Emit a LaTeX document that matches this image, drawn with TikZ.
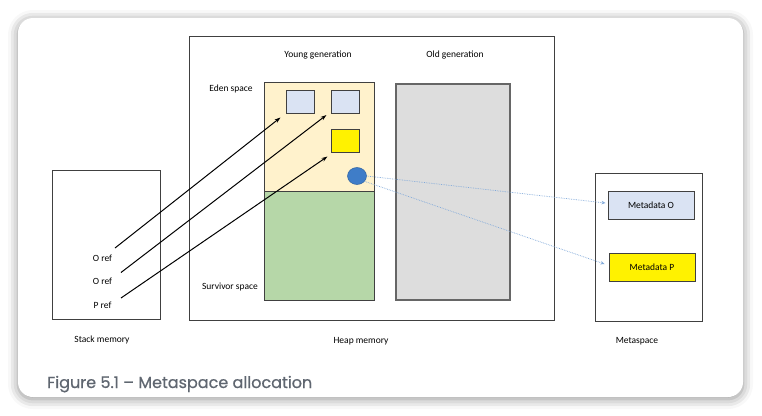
\documentclass[tikz,border=0pt]{standalone}
\usepackage{fontspec}
\setmainfont{Carlito}
\newfontfamily\capfont[FakeBold=0.6]{Poppins}
\usetikzlibrary{arrows.meta,shapes.geometric,shadows.blur,calc}
\definecolor{edencol}{HTML}{FFF2CC}
\definecolor{survcol}{HTML}{B6D7A8}
\definecolor{oldcol}{HTML}{DDDDDD}
\definecolor{objcol}{HTML}{DAE3F3}
\definecolor{klasscol}{HTML}{3F7DC8}
\definecolor{dotcol}{HTML}{7FA8DA}
\definecolor{edgecol}{HTML}{404040}
\definecolor{capcol}{HTML}{5F6670}
\tikzset{
  area/.style={draw=edgecol,line width=0.9pt},
  obj/.style={draw=edgecol,line width=1pt,minimum width=28pt,minimum height=23pt,inner sep=0pt},
  lbl/.style={font=\fontsize{9.5}{11}\selectfont,inner sep=0pt},
  ref/.style={->,line width=1pt},
  metaref/.style={->,dotcol,densely dotted,line width=0.7pt,>={Stealth[length=4pt,width=3.5pt]}}
}
\begin{document}
\begin{tikzpicture}[x=1pt,y=-1pt,>={Stealth[length=6pt,width=4pt]}]
\useasboundingbox (0,0) rectangle (762,415);
% card
\fill[white,rounded corners=15pt,blur shadow={shadow xshift=0pt,shadow yshift=-2pt,shadow blur radius=10pt,shadow opacity=45}]
  (18,18) rectangle (743,397);
\node[anchor=base west,font=\capfont\fontsize{16}{18}\selectfont,text=capcol,inner sep=0pt] (cap) at (47,388) {Figure 5.1 – Metaspace allocation};
% memory areas
\node[area,minimum width=365pt,minimum height=284pt] (heap) at (371.5,178) {};
\node[area,minimum width=108pt,minimum height=149pt] (stack) at (106,244.5) {};
\node[area,minimum width=107pt,minimum height=148pt] (meta) at (648.5,247) {};
\node[area,fill=edencol,minimum width=110pt,minimum height=109pt] (eden) at (319,136.5) {};
\node[area,fill=survcol,minimum width=110pt,minimum height=109pt] (surv) at (319,245.5) {};
\node[area,draw=edgecol!80,line width=1.3pt,fill=oldcol,minimum width=114pt,minimum height=216pt] (old) at (453,192) {};
% objects
\node[obj,fill=objcol] (obja) at (300,101.5) {};
\node[obj,fill=objcol] (objb) at (345,101.5) {};
\node[obj,fill=yellow] (objp) at (345,140.5) {};
\node[ellipse,fill=klasscol,draw=klasscol!80!black,line width=0.5pt,minimum width=19pt,minimum height=17pt,inner sep=0pt] (klass) at (357,176) {};
\node[obj,fill=objcol,minimum width=86pt,minimum height=28pt,lbl] (mdo) at (651,205) {Metadata O};
\node[obj,fill=yellow,minimum width=86pt,minimum height=28pt,lbl] (mdp) at (652,267) {Metadata P};
% labels
\node[lbl] (young) at (318,55) {Young generation};
\node[lbl] (oldlbl) at (455,55) {Old generation};
\node[lbl] (edenlbl) at (231,89) {Eden space};
\node[lbl] (survlbl) at (230,287) {Survivor space};
\node[lbl] (refa) at (102.5,258) {O ref};
\node[lbl] (refb) at (102.5,281.5) {O ref};
\node[lbl] (refp) at (102.5,305.5) {P ref};
\node[lbl] (stacklbl) at (102,339.5) {Stack memory};
\node[lbl] (heaplbl) at (361,341) {Heap memory};
\node[lbl] (metalbl) at (637,341.5) {Metaspace};
% references
\coordinate (ra) at (115,248);
\coordinate (rb) at (121,272.5);
\coordinate (rp) at (121,298);
\draw[ref] (ra) -- ($(obja.south west)+(-5,4)$);
\draw[ref] (rb) -- ($(objb.south west)+(-4,1.5)$);
\draw[ref] (rp) -- ($(objp.south west)+(-3,4)$);
\draw[metaref] (klass.east) -- ($(mdo.west)+(-2,-2)$);
\draw[metaref] (klass.-35) -- ($(mdp.west)+(-4,-3)$);
\end{tikzpicture}
\end{document}
